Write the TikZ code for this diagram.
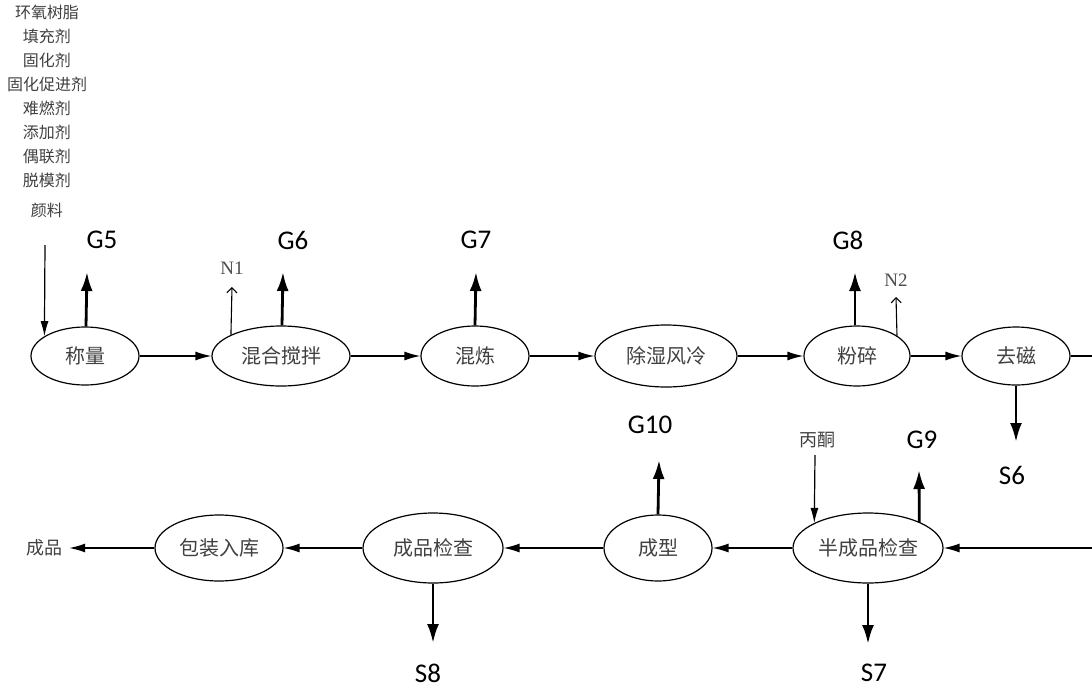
\documentclass[tikz,border=0pt]{standalone}
\usepackage{fontspec}
\setmainfont{Carlito}
\newfontfamily\cjk{Noto Sans CJK SC}
\newfontfamily\latserif{Liberation Serif}
\usetikzlibrary{arrows.meta,shapes.geometric}

\begin{document}
\begin{tikzpicture}[x=1pt,y=-1pt,
  proc/.style 2 args={ellipse,draw,line width=1.2pt,minimum width=#1,minimum height=#2,
    inner sep=0pt,font=\cjk\fontsize{20}{22}\selectfont,text=black!75},
  cjktxt/.style={inner sep=0pt,font=\cjk\fontsize{18}{20}\selectfont,text=black!75},
  gas/.style={inner sep=0pt,font=\fontsize{27}{30}\selectfont},
  nlab/.style={inner sep=0pt,font=\latserif\fontsize{19}{21}\selectfont,text=black!70},
  flow/.style={line width=1.4pt,-{Latex[length=16pt,width=9pt]}},
  plain/.style={line width=1.4pt},
  feed/.style={line width=1.2pt,-{Latex[length=15pt,width=8pt]}},
  vent/.style={line width=1.1pt,-{Straight Barb[length=5pt,width=10pt]}},
  emit/.style={line width=2.8pt,-{Latex[length=19pt,width=12pt]}}]
\useasboundingbox (0,0) rectangle (1092,688);

% raw material list
\node[cjktxt,anchor=north,align=center,font=\cjk\fontsize{16}{24}\selectfont] (raw) at (47,5)
  {环氧树脂\\填充剂\\固化剂\\固化促进剂\\难燃剂\\添加剂\\偶联剂\\脱模剂\\[6pt]颜料};

% upper process row
\node[proc={108}{58}] (cl) at (85,356) {称量};
\node[proc={138}{60}] (hh) at (281,356) {混合搅拌};
\node[proc={108}{60}] (hl) at (475,356) {混炼};
\node[proc={142}{62}] (cs) at (666,356) {除湿风冷};
\node[proc={106}{60}] (fs) at (857,356) {粉碎};
\node[proc={108}{58}] (qc) at (1016,356) {去磁};

% lower process row
\node[proc={150}{70}] (bj) at (868,548) {半成品检查};
\node[proc={108}{66}] (cx) at (658,548) {成型};
\node[proc={140}{70}] (cj) at (433,548) {成品检查};
\node[proc={128}{66}] (bz) at (219,548) {包装入库};
\node[cjktxt,inner sep=6pt] (cp) at (45,548) {成品};

% main flow
\coordinate (r1) at (1092,356);
\coordinate (r2) at (1092,548);
\draw[flow] (cl) -- (hh);
\draw[flow] (hh) -- (hl);
\draw[flow] (hl) -- (cs);
\draw[flow] (cs) -- (fs);
\draw[flow] (fs) -- (qc);
\draw[plain] (qc) -- (r1);
\draw[flow] (r2) -- (bj);
\draw[flow] (bj) -- (cx);
\draw[flow] (cx) -- (cj);
\draw[flow] (cj) -- (bz);
\draw[flow] (bz) -- (cp);

% material inputs
\coordinate (rawend) at (45,245);
\draw[feed] (rawend) -- (cl.154);
\node[cjktxt] (bt) at (817,440) {丙酮};
\coordinate (btend) at (815,455);
\draw[feed] (btend) -- (bj.155);

% waste gas outputs
\node[gas] (g5) at (102,240) {G5};
\node[gas] (g6) at (293,240) {G6};
\node[gas] (g7) at (476,240) {G7};
\node[gas] (g8) at (848,240) {G8};
\node[gas] (g10) at (650,425) {G10};
\node[gas] (g9) at (922,440) {G9};
\coordinate (g5e) at (87,272);
\coordinate (g6e) at (283,272);
\coordinate (g7e) at (476,272);
\coordinate (g8e) at (855,272);
\coordinate (g10e) at (659,460);
\coordinate (g9e) at (919,470);
\draw[emit] (cl.north) ++(1,0) coordinate (g5s) -- (g5e);
\draw[emit] (hh.north) ++(1,0) coordinate (g6s) -- (g6e);
\draw[emit] (hl.north) -- (g7e);
\draw[emit] (fs.north) ++(-2,0) coordinate (g8s) -- (g8e);
\draw[emit] (cx.north) -- (g10e);
\draw[emit] (bj.27.5) -- (g9e);

% nitrogen vents
\node[nlab] (n1) at (232,268) {N1};
\node[nlab] (n2) at (896,280) {N2};
\coordinate (n1e) at (232,287);
\coordinate (n2e) at (896,297);
\draw[vent] (hh.157) -- (n1e);
\draw[vent] (fs.27) -- (n2e);

% solid waste outputs
\node[gas] (s6) at (1012,475) {S6};
\node[gas] (s7) at (874,673) {S7};
\node[gas] (s8) at (428,673) {S8};
\coordinate (s6e) at (1016,442);
\coordinate (s7e) at (868,644);
\coordinate (s8e) at (433,643);
\draw[emit] (qc.south) -- (s6e);
\draw[emit] (bj.south) -- (s7e);
\draw[emit] (cj.south) -- (s8e);
\end{tikzpicture}
\end{document}
